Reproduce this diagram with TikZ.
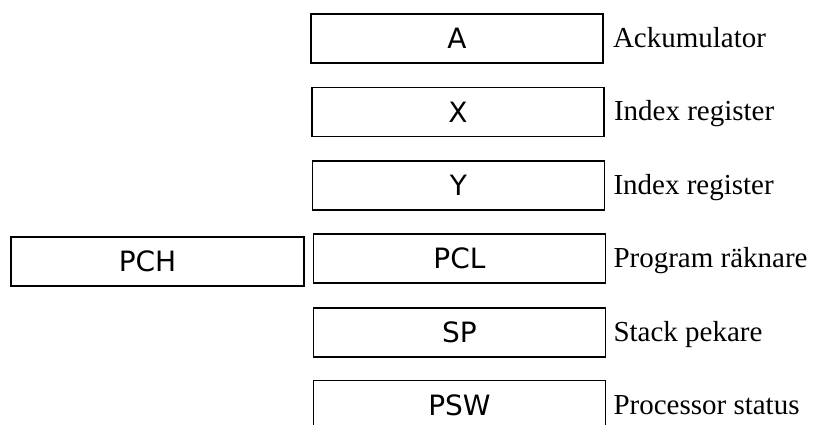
\documentclass[tikz,border=0pt]{standalone}
\usepackage{fontspec}
\setmainfont{Liberation Serif}
\newfontfamily\regfont{DejaVu Sans}
\begin{document}
\begin{tikzpicture}[x=1pt,y=-1pt,
  reg/.style={draw, line width=1.6pt, minimum width=292pt, minimum height=49pt,
    inner sep=0pt, font=\regfont\fontsize{28}{30}\selectfont},
  lbl/.style={anchor=base west, inner sep=0pt, font=\fontsize{29}{32}\selectfont}]
\useasboundingbox (0,0) rectangle (821,425);
\clip (0,0) rectangle (821,425);
% register boxes
\node[reg] (a)   at (457,38.5)  {A};
\node[reg] (x)   at (458,112)   {X};
\node[reg] (y)   at (458.5,185.5) {Y};
\node[reg] (pcl) at (459.5,258.5) {PCL};
\node[reg] (sp)  at (459.5,332.5) {SP};
\node[reg] (psw) at (459.5,405) {PSW};
\node[reg, minimum width=293pt] (pch) at (157.5,261.5) {\hspace*{-20pt}PCH};
% descriptions
\node[lbl] (la)   at ([xshift=9pt,yshift=-9pt]a.east)   {Ackumulator};
\node[lbl] (lx)   at ([xshift=9pt,yshift=-9pt]x.east)   {Index register};
\node[lbl] (ly)   at ([xshift=8pt,yshift=-9pt]y.east)   {Index register};
\node[lbl] (lpcl) at ([xshift=7pt,yshift=-9pt]pcl.east) {Program räknare};
\node[lbl] (lsp)  at ([xshift=7pt,yshift=-9pt]sp.east)  {Stack pekare};
\node[lbl] (lpsw) at ([xshift=7pt,yshift=-9pt]psw.east) {Processor status};
\end{tikzpicture}
\end{document}
